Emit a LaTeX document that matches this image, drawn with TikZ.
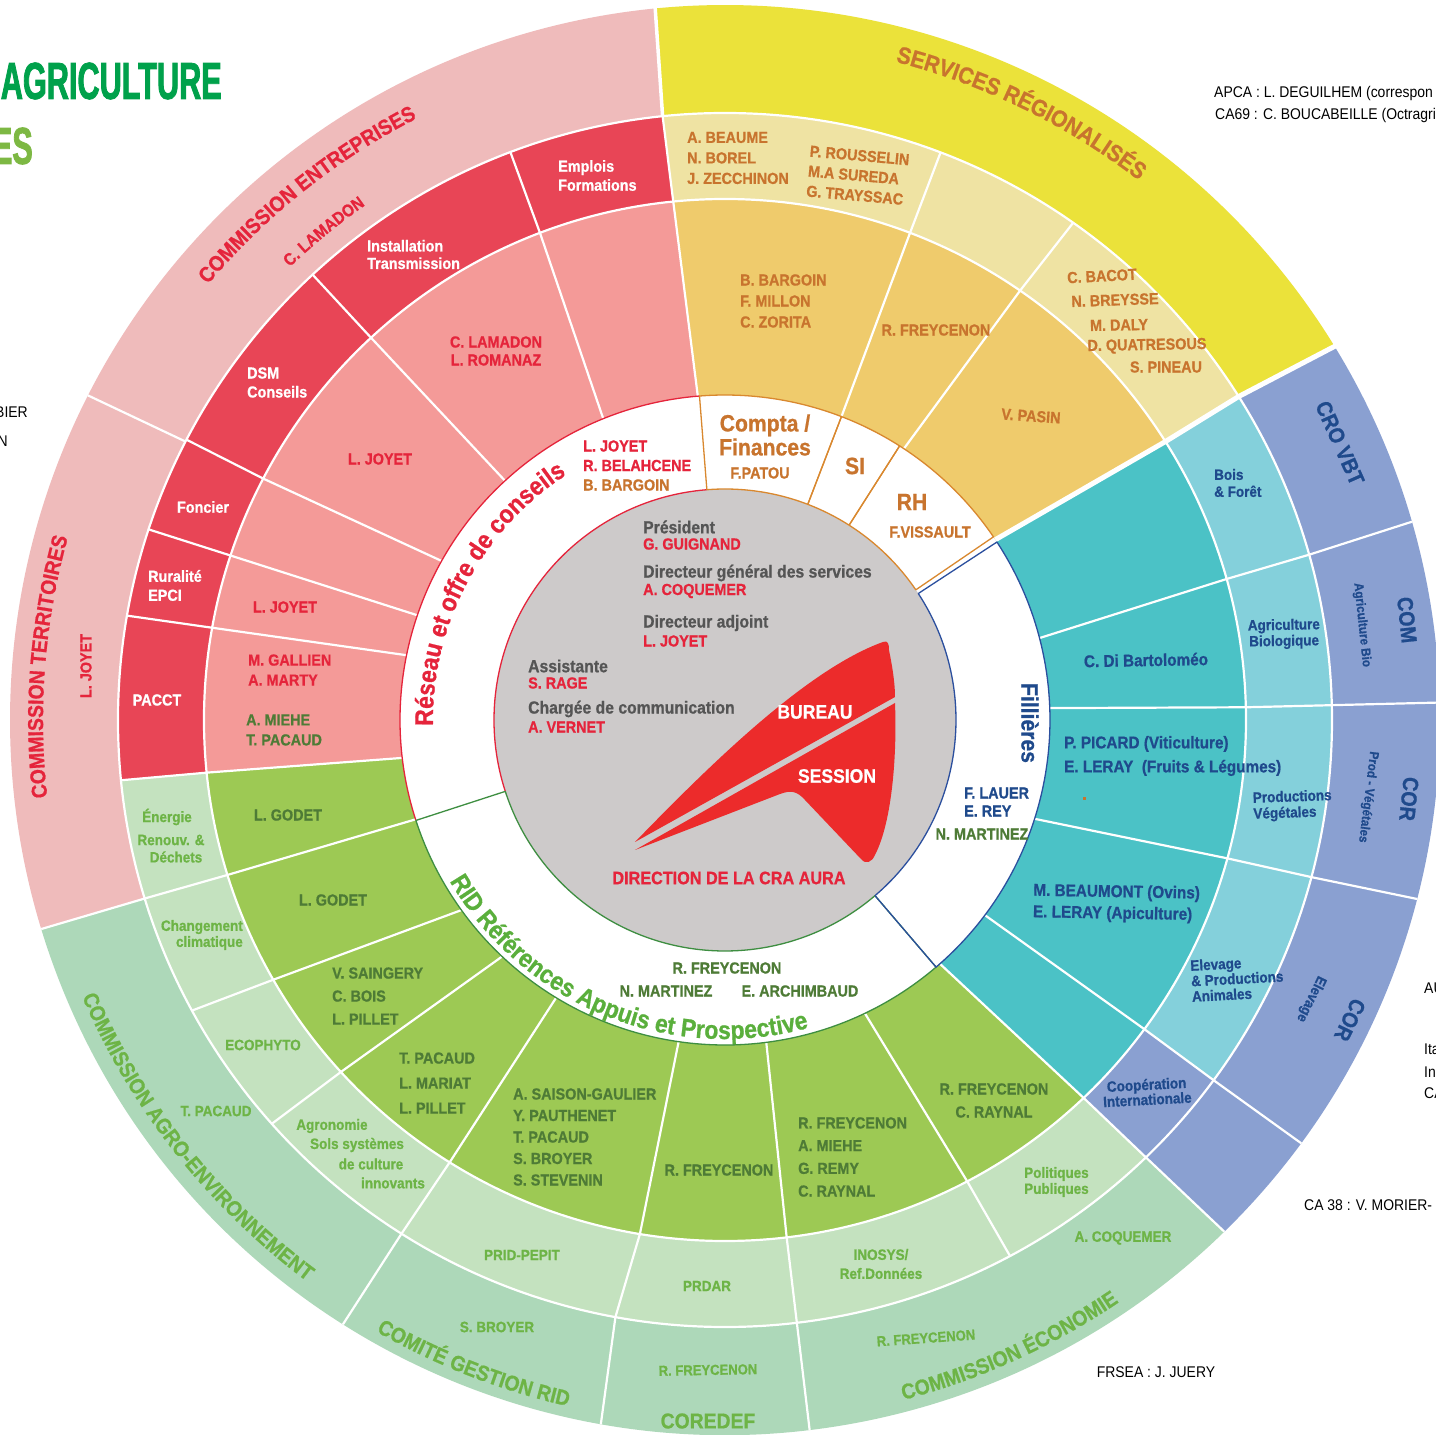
\documentclass[tikz,border=0pt]{standalone}
\usepackage{fontspec}
\setmainfont{Liberation Sans}[FakeStretch=0.9,BoldFeatures={FakeBold=0.8}]
\newfontfamily\titlefont{Liberation Sans}[FakeStretch=0.59,FakeBold=1.5]
\usetikzlibrary{decorations.text}

\definecolor{pinkname}{HTML}{F49A98}
\definecolor{redring}{HTML}{E84556}
\definecolor{pinkout}{HTML}{EFBBBB}
\definecolor{redtxt}{HTML}{E5243B}
\definecolor{orname}{HTML}{EFCB6C}
\definecolor{yelring}{HTML}{EFE3A3}
\definecolor{yelout}{HTML}{EBE23A}
\definecolor{ortxt}{HTML}{C8742E}
\definecolor{orline}{HTML}{D9882F}
\definecolor{grname}{HTML}{9DC954}
\definecolor{grring}{HTML}{C4E2BF}
\definecolor{grout}{HTML}{ADD8B9}
\definecolor{grdark}{HTML}{4E7B36}
\definecolor{grtxt}{HTML}{6DB446}
\definecolor{ridgreen}{HTML}{5AAF3C}
\definecolor{ridline}{HTML}{3E8E41}
\definecolor{tealname}{HTML}{4BC2C6}
\definecolor{tealring}{HTML}{84D0DB}
\definecolor{purp}{HTML}{8AA0D1}
\definecolor{bluetxt}{HTML}{1F4A8C}
\definecolor{filline}{HTML}{2B4F9E}
\definecolor{graydisk}{HTML}{CDCACA}
\definecolor{graytxt}{HTML}{555555}
\definecolor{sailred}{HTML}{EC2B2B}
\definecolor{titlegreen}{HTML}{00A14B}
\definecolor{titlelight}{HTML}{7DB843}

\newcommand\fsn[1]{\bfseries\fontsize{16}{#1}\selectfont}
\newcommand\fsb[1]{\bfseries\fontsize{17}{#1}\selectfont}
\newcommand\fsr[1]{\bfseries\fontsize{15}{#1}\selectfont}
\newcommand\fsbig[1]{\bfseries\fontsize{23.5}{#1}\selectfont}
\newcommand\fstitle{\bfseries\fontsize{17.5}{20}\selectfont}
\newcommand\fsboard{\bfseries\fontsize{19.5}{22}\selectfont}
\newcommand\fsdir{\bfseries\fontsize{18}{20}\selectfont}
\newcommand\fscomm{\bfseries\fontsize{21.5}{24}\selectfont}
\newcommand\fsserv{\bfseries\fontsize{23.5}{26}\selectfont}
\newcommand\fsarc{\bfseries\fontsize{25.5}{28}\selectfont}
\newcommand\fslam{\bfseries\fontsize{17}{19}\selectfont}
\newcommand\fspurple{\bfseries\fontsize{22}{24}\selectfont}
\newcommand\fssmall{\bfseries\fontsize{13}{15}\selectfont}
\newcommand\fssmallb{\bfseries\fontsize{14.5}{16}\selectfont}
\newcommand\fsouter{\bfseries\fontsize{15}{17}\selectfont}
\newcommand\fsnote{\fontsize{15.5}{17}\selectfont}
\newcommand\fsheadline{\titlefont\bfseries\fontsize{52}{54}\selectfont}

\begin{document}
\begin{tikzpicture}[x=1pt,y=1pt]
        % Styles
        \tikzstyle{white line}=[white,line width=2.2pt]
        \tikzstyle{gap line}=[white,line width=5pt]
        \tikzstyle{sector line}=[line width=1.3pt,line join=round]
        \tikzstyle{board title}=[anchor=west,inner sep=0pt,text=graytxt,font=\fstitle]
        \tikzstyle{board name}=[anchor=west,inner sep=0pt,text=redtxt,font={\fsn{20}}]
        \tikzstyle{name text}=[inner sep=0pt,font={\fsn{20}}]
        \tikzstyle{ring text}=[inner sep=0pt,font={\fsr{16}}]
        \tikzstyle{outer text}=[inner sep=0pt,text=grtxt,font=\fsouter]
        \tikzstyle{purple text}=[inner sep=0pt,text=bluetxt,font=\fspurple]
        \tikzstyle{note text}=[inner sep=0pt,anchor=west,font=\fsnote]
        %The graphic
        \fill[white] (-725,-715) rectangle (711,720);
        \useasboundingbox (-725,-715) rectangle (711,720);
        \clip (-725,-715) rectangle (711,720);
        %outer ring
        \foreach \col/\ai/\ao/\bi/\bo in {pinkout/95.9/95.6/197.1/197, grout/197.1/197/313.9/314.3,
            purp/313.9/314.3/392.2/391.5, yelout/32.2/31.5/95.9/95.6}
        \fill[fill=\col] (\ai:607pt) -- (\ao:715pt) arc[start angle=\ao,end angle=\bo,radius=715pt]
            -- (\bi:607pt) arc[start angle=\bi,end angle=\ai,radius=607pt] -- cycle;
        %middle ring
        \foreach \col/\ai/\ao/\bi/\bo in {redring/95.7/95.9/185.8/185.7, grring/185.8/185.7/313.5/313.9,
            purp/313.5/313.9/323.6/323.6, tealring/323.6/323.6/392.3/392.2, yelring/32.3/32.2/95.7/95.9}
        \fill[fill=\col] (\ai:521pt) -- (\ao:607pt) arc[start angle=\ao,end angle=\bo,radius=607pt]
            -- (\bi:521pt) arc[start angle=\bi,end angle=\ai,radius=521pt] -- cycle;
        %names ring
        \foreach \col/\ai/\ao/\bi/\bo in {pinkname/94.8/95.7/186.7/185.8, grname/186.7/185.8/311.4/313.5,
            tealname/311.4/313.5/393.7/392.3, orname/33.7/32.3/94.8/95.7}
        \fill[fill=\col] (\ai:325pt) -- (\ao:521pt) arc[start angle=\ao,end angle=\bo,radius=521pt]
            -- (\bi:325pt) arc[start angle=\bi,end angle=\ai,radius=325pt] -- cycle;
        %white separations
        \foreach \a/\b in {112/110.8, 132.6/132.8, 150.7/152.4, 161.2/161.6, 168.5/169.8, 186.7/185.8,
            197.8/197.3, 215.8/209.9, 226.7/222.5, 238.7/238.1, 261.8/260.6, 277.3/276.8, 295.5/297.7,
            311.4/313.5, 323.1/323.6, 342.3/344.6, 2.1/1.4, 14.6/15.7, 56.6/55.5, 69/69.2, 94.8/95.7}
        \draw[white line] (\a:325pt) -- (\b:521pt);
        \foreach \a/\b in {110.8/110.7, 132.8/132.8, 152.4/152.5, 161.6/161.7, 169.8/170.1, 185.8/185.7,
            197.3/197.1, 209.9/208.6, 222.5/221.7, 238.1/237.8, 260.6/259.6, 276.8/276.8, 297.7/298,
            313.5/313.9, 323.6/323.6, 344.6/345, 1.4/1.4, 15.7/15.8, 55.5/55, 69.2/69.2, 95.7/95.9}
        \draw[white line] (\a:521pt) -- (\b:607pt);
        \foreach \a/\b in {152.7/153, 197.1/197, 237.8/237.7, 259.6/260, 276.8/276.8, 313.9/314.3,
            323.6/323.7, 345/345.5, 1.4/1.4, 15.8/16.1}
        \draw[white line] (\a:607pt) -- (\b:715pt);
        \draw[white line] (0,0) circle[radius=521pt];
        \draw[white line] (0,0) circle[radius=607pt];
        \draw[gap line] (33.7:325pt) -- (32.3:521pt) -- (32.2:607pt) -- (31.5:716pt);
        \draw[white,line width=3.5pt] (95.9:607pt) -- (95.6:716pt);
        %centre disk and the white label ring
        \fill[graydisk] (0,0) circle[radius=231pt];
        \draw[sector line,redtxt] (94.5:325pt) arc[start angle=94.5,end angle=198,radius=325pt];
        \draw[sector line,redtxt] (94.5:231pt) arc[start angle=94.5,end angle=198,radius=231pt];
        \foreach \a/\b in {94.5/69, 69/57.5, 57.5/34.3}
        \draw[sector line,orline] (\a:231pt) -- (\a:325pt) arc[start angle=\a,end angle=\b,radius=325pt]
            -- (\b:231pt) arc[start angle=\b,end angle=\a,radius=231pt];
        \draw[sector line,ridline] (198:231pt) -- (198:325pt) arc[start angle=198,end angle=310.5,radius=325pt]
            -- (310.5:231pt) arc[start angle=310.5,end angle=198,radius=231pt];
        \draw[sector line,filline] (310.5:231pt) -- (310.5:325pt) arc[start angle=310.5,end angle=393.2,radius=325pt]
            -- (393.2:231pt) arc[start angle=393.2,end angle=310.5,radius=231pt] -- cycle;
        %sail
        \fill[sailred] (-90,-122) .. controls (-20,-50) and (80,50) .. (158,78)
            .. controls (163,80) and (164,76) .. (164,70) .. controls (167,55) and (170,38) .. (170,23) -- cycle;
        \fill[sailred] (170,17) .. controls (172,-30) and (168,-100) .. (150,-135)
            .. controls (147,-142) and (141,-145) .. (136,-139) -- (80,-80)
            .. controls (72,-71) and (66,-70) .. (55,-74) -- (-90,-130) -- cycle;
        \node[inner sep=0pt,text=white,font=\fsboard] (bureau) at (90,8) {BUREAU};
        \node[inner sep=0pt,text=white,font=\fsboard] (session) at (112,-56) {SESSION};
        \node[inner sep=0pt,text=redtxt,font=\fsdir] (direction) at (4,-158) {DIRECTION DE LA CRA AURA};
        %board
        \node[board title] (prestitle) at (-82,193) {Président};
        \node[board name] (presname) at (-82,176) {G. GUIGNAND};
        \node[board title] (dgstitle) at (-82,147) {Directeur général des services};
        \node[board name] (dgsname) at (-82,129) {A. COQUEMER};
        \node[board title] (dgatitle) at (-82,97) {Directeur adjoint};
        \node[board name] (dganame) at (-82,79) {L. JOYET};
        \node[board title] (assttitle) at (-197,54) {Assistante};
        \node[board name] (asstname) at (-197,37) {S. RAGE};
        \node[board title] (commtitle) at (-197,11) {Chargée de communication};
        \node[board name] (commname) at (-197,-7) {A. VERNET};
        %label ring
        \path[decorate,decoration={text along path,text align=center,text color=redtxt,
            text={|\fsarc|Réseau et offre de conseils}}] (195:292pt) arc[start angle=195,end angle=109,radius=292pt];
        \path[decorate,decoration={text along path,text align=center,text color=ridgreen,
            text={|\fsarc|RID Références Appuis et Prospective}}] (200:319pt) arc[start angle=200,end angle=295.6,radius=319pt];
        \node[name text,anchor=west,align=left,text=redtxt,font={\fsn{19.5}}] (reseaunames) at (-142,254.5)
            {L. JOYET\\R. BELAHCENE\\\textcolor{ortxt}{B. BARGOIN}};
        \node[inner sep=0pt,align=center,text=ortxt,font={\fsbig{24}}] (compta) at (40,285) {Compta /\\Finances};
        \node[name text,text=ortxt] (patou) at (35,247) {F.PATOU};
        \node[inner sep=0pt,text=ortxt,font={\fsbig{24}}] (si) at (130,254) {SI};
        \node[inner sep=0pt,text=ortxt,font={\fsbig{24}}] (rh) at (187,218) {RH};
        \node[name text,text=ortxt] (vissault) at (205,188) {F.VISSAULT};
        \node[inner sep=0pt,text=bluetxt,font={\fsbig{24}},rotate=-90] (filieres) at (305,-3) {Fillières};
        \node[name text,anchor=west,align=left,text=bluetxt,font={\fsn{18}}] (lauer) at (239,-82) {F. LAUER\\E. REY};
        \node[name text,text=grdark] (martinezF) at (257,-114) {N. MARTINEZ};
        \node[name text,text=grdark] (freycenonR) at (2,-248) {R. FREYCENON};
        \node[name text,text=grdark] (martinezR) at (-59,-271) {N. MARTINEZ};
        \node[name text,text=grdark] (archimbaud) at (75,-271) {E. ARCHIMBAUD};
        %network sectors
        \node[name text,anchor=west,align=left,text=white,font={\fsn{19}}] (emplois) at (-167,544.5) {Emplois\\Formations};
        \node[name text,anchor=west,align=left,text=white,font={\fsn{17.5}}] (installation) at (-358,465.5) {Installation\\Transmission};
        \node[name text,anchor=west,align=left,text=white,font={\fsn{19}}] (dsm) at (-478,337.5) {DSM\\Conseils};
        \node[name text,text=white] (foncier) at (-522,213) {Foncier};
        \node[name text,anchor=west,align=left,text=white,font={\fsn{19}}] (ruralite) at (-577,134.5) {Ruralité\\EPCI};
        \node[name text,text=white] (pacct) at (-568,20) {PACCT};
        \node[name text,align=center,text=redtxt,font={\fsn{18}}] (lamadon) at (-229,369) {C. LAMADON\\L. ROMANAZ};
        \node[name text,text=redtxt] (joyetA) at (-345,261) {L. JOYET};
        \node[name text,text=redtxt] (joyetB) at (-440,113) {L. JOYET};
        \node[name text,anchor=west,align=left,text=redtxt] (gallien) at (-477,50) {M. GALLIEN\\A. MARTY};
        \node[name text,anchor=west,align=left,text=grdark] (miehe) at (-479,-10) {A. MIEHE\\T. PACAUD};
        \path[decorate,decoration={text along path,text align=center,text color=redtxt,
            text={|\fscomm|COMMISSION ENTREPRISES}}] (150:676pt) arc[start angle=150,end angle=107,radius=676pt];
        \path[decorate,decoration={text along path,text align=center,text color=redtxt,
            text={|\fslam|C. LAMADON}}] (142:628pt) arc[start angle=142,end angle=116.8,radius=628pt];
        \path[decorate,decoration={text along path,text align=center,text color=redtxt,
            text={|\fscomm|COMMISSION TERRITOIRES}}] (196:682pt) arc[start angle=196,end angle=155,radius=682pt];
        \node[name text,text=redtxt,rotate=90] (joyetC) at (-639,54) {L. JOYET};
        %regional services
        \node[name text,anchor=west,align=left,text=ortxt,font={\fsn{21}}] (bargoin) at (15,419) {B. BARGOIN\\F. MILLON\\C. ZORITA};
        \node[name text,text=ortxt] (freycenonO) at (211,390) {R. FREYCENON};
        \node[name text,text=ortxt,rotate=-4] (pasin) at (306,304) {V. PASIN};
        \node[name text,anchor=west,align=left,text=ortxt,font={\fsn{20.5}}] (beaume) at (-38,562) {A. BEAUME\\N. BOREL\\J. ZECCHINON};
        \node[name text,anchor=west,align=left,text=ortxt,rotate=-5] (rousselin) at (83,549) {P. ROUSSELIN\\M.A SUREDA\\G. TRAYSSAC};
        \node[name text,text=ortxt,rotate=3] (bacot) at (377,444) {C. BACOT};
        \node[name text,text=ortxt,rotate=2] (breysse) at (390,420) {N. BREYSSE};
        \node[name text,text=ortxt,rotate=1] (daly) at (394,395) {M. DALY};
        \node[name text,text=ortxt,rotate=1] (quatresous) at (422,374) {D. QUATRESOUS};
        \node[name text,text=ortxt] (pineau) at (441,353) {S. PINEAU};
        \path[decorate,decoration={text along path,text align=center,text color=ortxt,
            text={|\fsserv|SERVICES RÉGIONALISÉS}}] (86:680pt) arc[start angle=86,end angle=42,radius=680pt];
        %sectors
        \node[name text,text=bluetxt,font={\fsb{20}},rotate=1] (dibartolomeo) at (421,60) {C. Di Bartoloméo};
        \node[name text,anchor=west,align=left,text=bluetxt,font={\fsb{24}}] (picard) at (339,-36)
            {P. PICARD (Viticulture)\\E. LERAY~ (Fruits \& Légumes)};
        \fill[ortxt] (357.5,-80.5) rectangle (360.5,-77.5);
        \node[name text,anchor=west,align=left,text=bluetxt,font={\fsb{21.5}},rotate=-1] (beaumont) at (308,-182)
            {M. BEAUMONT (Ovins)\\E. LERAY (Apiculture)};
        \node[ring text,anchor=west,align=left,text=bluetxt,font={\fsr{17}}] (bois) at (489,237) {Bois\\\& Forêt};
        \node[ring text,align=center,text=bluetxt,rotate=1] (agribio) at (559,86) {Agriculture\\Biologique};
        \node[ring text,anchor=west,align=left,text=bluetxt,rotate=2] (prodveg) at (528,-87) {Productions\\Végétales};
        \node[ring text,anchor=west,align=left,text=bluetxt,font={\fsr{15.5}},rotate=3] (elevage) at (466,-261)
            {Elevage\\\& Productions\\Animales};
        \node[ring text,align=center,text=bluetxt,font={\fsr{15}},rotate=3] (cooperation) at (422,-372) {Coopération\\Internationale};
        \node[purple text,rotate=-66] (crovbt) at (615,277) {CRO VBT};
        \node[purple text,rotate=-84] (com) at (682,100) {COM};
        \node[purple text,font=\fssmall,rotate=-84] (combio) at (637,95) {Agriculture Bio};
        \node[purple text,rotate=-96] (corveg) at (684,-79) {COR};
        \node[purple text,font=\fssmall,rotate=-97] (corvegsub) at (643,-77) {Prod - Végétales};
        \node[purple text,rotate=-116] (corelev) at (625,-300) {COR};
        \node[purple text,font=\fssmallb,rotate=-116] (corelevsub) at (586,-279) {Elevage};
        %references
        \node[name text,text=grdark] (godetA) at (-437,-95) {L. GODET};
        \node[name text,text=grdark] (godetB) at (-392,-180) {L. GODET};
        \node[name text,anchor=west,align=left,text=grdark,font={\fsn{23}}] (saingery) at (-393,-276) {V. SAINGERY\\C. BOIS\\L. PILLET};
        \node[name text,anchor=west,align=left,text=grdark,font={\fsn{25}}] (pacaudG) at (-326,-363) {T. PACAUD\\L. MARIAT\\L. PILLET};
        \node[name text,anchor=west,align=left,text=grdark,font={\fsn{21.5}}] (saison) at (-212,-417)
            {A. SAISON-GAULIER\\Y. PAUTHENET\\T. PACAUD\\S. BROYER\\S. STEVENIN};
        \node[name text,text=grdark] (freycenonG) at (-6,-450) {R. FREYCENON};
        \node[name text,anchor=west,align=left,text=grdark,font={\fsn{22.7}}] (freycenonM) at (73,-437)
            {R. FREYCENON\\A. MIEHE\\G. REMY\\C. RAYNAL};
        \node[name text,align=center,text=grdark,font={\fsn{23}}] (freycenonP) at (269,-380.5) {R. FREYCENON\\C. RAYNAL};
        \node[ring text,text=grtxt] (energieA) at (-558,-97) {Énergie};
        \node[ring text,text=grtxt] (energieB) at (-554,-120) {Renouv. \&};
        \node[ring text,text=grtxt] (energieC) at (-549,-137) {Déchets};
        \node[ring text,anchor=east,align=right,text=grtxt] (changement) at (-482,-215) {Changement\\climatique};
        \node[ring text,text=grtxt] (ecophyto) at (-462,-325) {ECOPHYTO};
        \node[ring text,text=grtxt] (agroA) at (-393,-406) {Agronomie};
        \node[ring text,text=grtxt] (agroB) at (-368,-425) {Sols systèmes};
        \node[ring text,text=grtxt] (agroC) at (-354,-444) {de culture};
        \node[ring text,text=grtxt] (agroD) at (-332,-463) {innovants};
        \node[ring text,text=grtxt] (pridpepit) at (-203,-535) {PRID-PEPIT};
        \node[ring text,text=grtxt] (prdar) at (-18,-566) {PRDAR};
        \node[ring text,align=center,text=grtxt,font={\fsr{19}}] (inosys) at (156,-544) {INOSYS/\\Ref.Données};
        \node[ring text,anchor=west,align=left,text=grtxt] (politiques) at (299,-462) {Politiques\\Publiques};
        \path[decorate,decoration={text along path,text align=center,text color=grtxt,
            text={|\fscomm|COMMISSION AGRO-ENVIRONNEMENT}}] (195:700pt) arc[start angle=195,end angle=241.6,radius=700pt];
        \path[decorate,decoration={text along path,text align=center,text color=grtxt,
            text={|\fscomm|COMITÉ GESTION RID}}] (233:704pt) arc[start angle=233,end angle=264.4,radius=704pt];
        \path[decorate,decoration={text along path,text align=center,text color=grtxt,
            text={|\fscomm|COMMISSION ÉCONOMIE}}] (280:703pt) arc[start angle=280,end angle=308.8,radius=703pt];
        \node[outer text] (pacaudO) at (-509,-391) {T. PACAUD};
        \node[outer text] (broyerO) at (-228,-607) {S. BROYER};
        \node[outer text,font=\fssmallb,rotate=1] (freycenonC) at (-17,-650) {R. FREYCENON};
        \node[outer text,font=\fscomm] (coredef) at (-17,-701) {COREDEF};
        \node[outer text,font=\fssmallb,rotate=4] (freycenonE) at (201,-618) {R. FREYCENON};
        \node[outer text] (coquemerO) at (398,-518) {A. COQUEMER};
        %notes around the wheel
        \node[note text] (apca) at (489,627) {APCA : L. DEGUILHEM (correspon};
        \node[note text] (ca69) at (490,604) {CA69 : C. BOUCABEILLE (Octragri};
        \node[note text,anchor=east] (bier) at (-697,308) {BIER};
        \node[note text,anchor=east] (noteN) at (-717,279) {N};
        \node[note text] (au) at (699,-268) {AU};
        \node[note text] (ita) at (699,-329) {Ita};
        \node[note text] (inn) at (699,-352) {In};
        \node[note text] (ca) at (699,-373) {CA};
        \node[note text] (ca38) at (579,-485) {CA 38 : V. MORIER-};
        \node[note text,anchor=center] (frsea) at (431,-652) {FRSEA : J. JUERY};
        \node[anchor=east,inner sep=0pt,text=titlegreen,font=\fsheadline] (headline) at (-503,639) {AGRICULTURE};
        \node[anchor=east,inner sep=0pt,text=titlelight,font=\fsheadline] (subheadline) at (-692,574) {ES};
\end{tikzpicture}
\end{document}
